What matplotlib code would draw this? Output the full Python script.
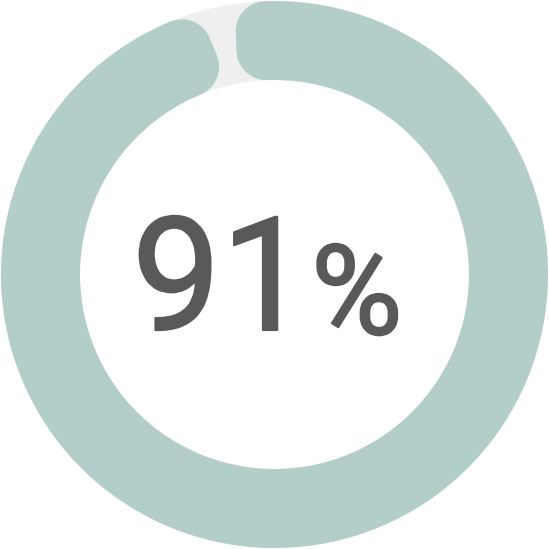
import matplotlib
matplotlib.use("Agg")
import numpy as np
import matplotlib.pyplot as plt
from matplotlib.patches import Wedge
import matplotlib.patheffects as pe

# data
value_label = "91"
unit_label = "%"
arc_start_deg = 105.0      # end of the coloured arc (left of 12 o'clock)
arc_stop_deg = 99.4 + 360  # start of the coloured arc (just left of 12 o'clock)

ring_color = "#b3cdc8"
track_color = "#efefef"
text_color = "#58595b"

W = 549
cx, cy = 274.5, 274.5
r_out, r_in = 273.5, 194.5
corner = 30  # corner rounding radius in px

fig = plt.figure(figsize=(W / 100, W / 100), dpi=100)
ax = fig.add_axes([0, 0, 1, 1])
ax.set_xlim(0, W)
ax.set_ylim(0, W)
ax.set_aspect("equal")
ax.axis("off")

# background track
ax.add_patch(Wedge((cx, cy), r_out, 0, 360, width=r_out - r_in,
                   facecolor=track_color, edgecolor="none"))

# coloured arc with rounded corners: shrunken wedge + thick round-joined edge
r_mid = (r_out + r_in) / 2
d = np.degrees(corner / r_mid)
lw = 2 * corner * 72 / 100
ax.add_patch(Wedge((cx, cy), r_out - corner, arc_start_deg + d, arc_stop_deg - d,
                   width=(r_out - r_in) - 2 * corner,
                   facecolor=ring_color, edgecolor=ring_color,
                   linewidth=lw, joinstyle="round"))

rounded = [pe.Stroke(linewidth=1.5, foreground=text_color,
                     joinstyle="round", capstyle="round"), pe.Normal()]
base_y = W - 330
split_x = 310
ax.text(split_x, base_y, value_label, fontsize=114, color=text_color,
        family="Roboto", ha="right", va="baseline", path_effects=rounded)
ax.text(split_x + 1, base_y - 4, unit_label, fontsize=90, color=text_color,
        family="Roboto", ha="left", va="baseline", path_effects=rounded)

fig.savefig("out.png", dpi=100)
